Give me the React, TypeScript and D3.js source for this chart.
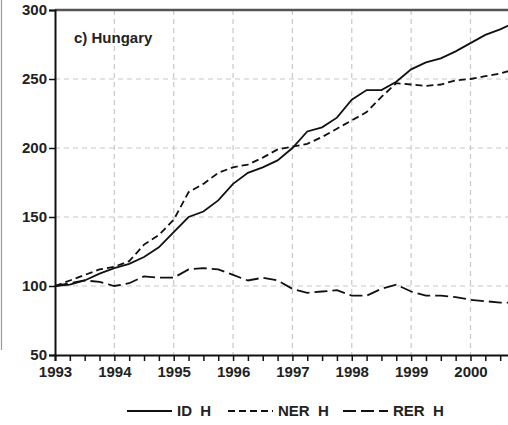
import { useEffect, useRef } from "react";
import * as d3 from "d3";

// quarterly observations, 1993Q1 .. 2000Q4
const quarters = d3.range(32).map((i) => 1993 + i * 0.25);
const idH = [
  100, 101, 104, 109, 113, 116, 121, 128, 139, 150, 154, 162, 174, 182, 186, 191,
  200, 212, 215, 222, 235, 242, 242, 248, 257, 262, 265, 270, 276, 282, 286, 291,
];
const nerH = [
  100, 104, 108, 112, 114, 118, 130, 137, 148, 168, 174, 182, 186, 188, 193, 199,
  201, 203, 208, 214, 220, 226, 237, 247, 246, 245, 246, 249, 250, 252, 254, 257,
];
const rerH = [
  100, 102, 104, 103, 100, 102, 107, 106, 106, 112, 113, 112, 108, 104, 106, 104,
  98, 95, 96, 97, 93, 93, 98, 101, 96, 93, 93, 92, 90, 89, 88, 88,
];
const yearTicks = [1993, 1994, 1995, 1996, 1997, 1998, 1999, 2000];
const valueTicks = [50, 100, 150, 200, 250, 300];

const series = [
  { name: "ID  H", values: idH, dash: null as string | null },
  { name: "NER  H", values: nerH, dash: "7,4" },
  { name: "RER  H", values: rerH, dash: "13,5" },
];

export default function App() {
  const svgRef = useRef<SVGSVGElement | null>(null);

  useEffect(() => {
    document.body.style.margin = "0";
    const svgEl = svgRef.current;
    if (!svgEl) return;

    const width = 508;
    const height = 425;
    const left = 55;
    const top = 10;
    const bottom = 355;
    const font = "'Liberation Sans', Arial, sans-serif";

    const x = d3.scaleLinear().domain([1993, 2000.75]).range([left, 515]);
    const y = d3.scaleLinear().domain([50, 300]).range([bottom, top]);

    const svg = d3.select(svgEl);
    svg.selectAll("*").remove();
    svg.attr("viewBox", `0 0 ${width} ${height}`);

    // neighbouring panel edge
    svg.append("line").attr("x1", 1.5).attr("x2", 1.5).attr("y1", 0).attr("y2", 350)
      .attr("stroke", "#999").attr("stroke-width", 1.2);

    const grid = svg.append("g").attr("stroke", "#c8c8c8").attr("stroke-width", 1.2)
      .attr("stroke-dasharray", "5,4");
    grid.selectAll("line.v").data(yearTicks.slice(1)).join("line")
      .attr("x1", (d) => x(d)).attr("x2", (d) => x(d)).attr("y1", top).attr("y2", bottom);
    grid.selectAll("line.h").data([100, 150, 200, 250]).join("line")
      .attr("x1", left).attr("x2", width).attr("y1", (d) => y(d)).attr("y2", (d) => y(d));

    // frame top
    svg.append("line").attr("x1", left).attr("x2", width).attr("y1", top).attr("y2", top)
      .attr("stroke", "#555").attr("stroke-width", 2.5);

    const line = d3.line<number>().x((_, i) => x(quarters[i])).y((d) => y(d));
    series.forEach((s) => {
      svg.append("path").datum(s.values).attr("d", line).attr("fill", "none")
        .attr("stroke", "#111").attr("stroke-width", 1.8)
        .attr("stroke-dasharray", s.dash ?? null);
    });

    const yAxis = svg.append("g").attr("transform", `translate(${left},0)`)
      .call(d3.axisLeft(y).tickValues(valueTicks).tickSize(6).tickPadding(2));
    const xAxis = svg.append("g").attr("transform", `translate(0,${bottom})`)
      .call(d3.axisBottom(x).tickValues(quarters).tickSize(6).tickPadding(5)
        .tickFormat((d) => (Number.isInteger(d as number) ? String(d) : "")));
    [yAxis, xAxis].forEach((ax) => {
      ax.select(".domain").attr("stroke", "#111").attr("stroke-width", 2);
      ax.selectAll(".tick line").attr("stroke", "#111").attr("stroke-width", 1.5);
      ax.selectAll("text").attr("font-family", font).attr("font-size", 15)
        .attr("font-weight", "bold").attr("fill", "#222");
    });

    svg.append("text").attr("x", 74).attr("y", 43).attr("font-family", font)
      .attr("font-size", 15).attr("font-weight", "bold").attr("fill", "#222").text("c) Hungary");

    const legendX = [127, 228, 343];
    const legend = svg.append("g");
    series.forEach((s, i) => {
      legend.append("line").attr("x1", legendX[i]).attr("x2", legendX[i] + 45)
        .attr("y1", 411).attr("y2", 411).attr("stroke", "#111").attr("stroke-width", 1.8)
        .attr("stroke-dasharray", s.dash ?? null);
      legend.append("text").attr("x", legendX[i] + 50).attr("y", 416)
        .attr("font-family", font).attr("font-size", 15).attr("font-weight", "bold")
        .attr("fill", "#222").style("white-space", "pre").text(s.name);
    });
  }, []);

  return <svg ref={svgRef} width={508} height={425} style={{ display: "block" }} />;
}
